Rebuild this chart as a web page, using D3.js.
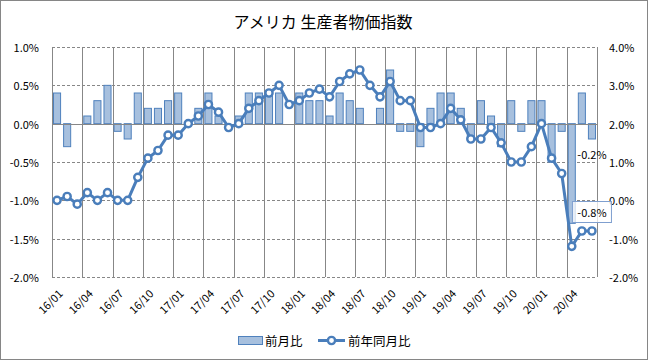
<!DOCTYPE html>
<html><head><meta charset="utf-8">
<script src="https://cdn.jsdelivr.net/npm/d3@7"></script>
<style>
html,body{margin:0;padding:0;background:#fff;}
svg{display:block;}
text{font-family:"Noto Sans CJK JP","Liberation Sans",sans-serif;fill:#000;}
</style></head>
<body>
<svg id="chart" width="648" height="360"></svg>
<script>
const title = "アメリカ 生産者物価指数";
const months = [
 "16/01","16/02","16/03","16/04","16/05","16/06","16/07","16/08","16/09","16/10","16/11","16/12",
 "17/01","17/02","17/03","17/04","17/05","17/06","17/07","17/08","17/09","17/10","17/11","17/12",
 "18/01","18/02","18/03","18/04","18/05","18/06","18/07","18/08","18/09","18/10","18/11","18/12",
 "19/01","19/02","19/03","19/04","19/05","19/06","19/07","19/08","19/09","19/10","19/11","19/12",
 "20/01","20/02","20/03","20/04","20/05","20/06"];
// 前月比 (left axis, %)
const mom = [
 0.4,-0.3,0.0,0.1,0.3,0.5,-0.1,-0.2,0.4,0.2,0.2,0.3,
 0.4,0.0,0.2,0.4,0.1,0.0,0.1,0.4,0.4,0.4,0.4,0.0,
 0.4,0.3,0.3,0.1,0.4,0.3,0.2,0.0,0.2,0.7,-0.1,-0.1,
 -0.3,0.2,0.4,0.4,0.2,-0.2,0.3,0.1,-0.3,0.3,-0.1,0.3,
 0.3,-0.5,-0.1,-1.3,0.4,-0.2];
// 前年同月比 (right axis, %)
const yoy = [
 0.0,0.1,-0.1,0.2,0.0,0.2,0.0,0.0,0.6,1.1,1.3,1.7,
 1.7,2.0,2.2,2.5,2.3,1.9,2.0,2.4,2.6,2.8,3.0,2.5,
 2.6,2.8,2.9,2.7,3.1,3.3,3.4,3.0,2.7,3.1,2.6,2.6,
 1.9,1.9,2.0,2.4,2.1,1.6,1.6,1.9,1.5,1.0,1.0,1.4,
 2.0,1.1,0.7,-1.2,-0.8,-0.8];
const leftTicks = [-2.0,-1.5,-1.0,-0.5,0.0,0.5,1.0];
const rightTicks = [-2.0,-1.0,0.0,1.0,2.0,3.0,4.0];
const seriesNames = ["前月比","前年同月比"];

const W = 648, H = 360;
const L = 52, R = 597, T = 47, B = 277;
const blue = "#4A7EBB", barFill = "#A7C0DE", barStroke = "#4F81BD", grid = "#878787";

const svg = d3.select("#chart");
svg.append("rect").attr("x",0.5).attr("y",0.5).attr("width",W-1).attr("height",H-1)
  .attr("fill","#fff").attr("stroke","#868686");

const x = d3.scaleBand().domain(months).range([L,R]).paddingInner(0.2).paddingOuter(0.1);
const step = x.step();
const y1 = d3.scaleLinear().domain([-2,1]).range([B,T]);
const y2 = d3.scaleLinear().domain([-2,4]).range([B,T]);
const fmt = d => d.toFixed(1) + "%";

// horizontal gridlines (dashed)
svg.append("g").selectAll("line").data(leftTicks.filter(d=>d!==0)).join("line")
  .attr("x1",L).attr("x2",R).attr("y1",d=>Math.round(y1(d))+0.5).attr("y2",d=>Math.round(y1(d))+0.5)
  .attr("stroke",grid).attr("stroke-width",1).attr("stroke-dasharray","3,2");

// vertical gridlines every 3 months (solid)
const vIdx = d3.range(0, months.length+1, 3);
svg.append("g").selectAll("line").data(vIdx).join("line")
  .attr("x1",i=>Math.round(L + i*step)+0.5).attr("x2",i=>Math.round(L + i*step)+0.5)
  .attr("y1",T).attr("y2",B)
  .attr("stroke",grid).attr("stroke-width",1);

// bars
svg.append("g").selectAll("rect").data(mom.map((v,i)=>({m:months[i],v}))).join("rect")
  .filter(d=>d.v!==0)
  .attr("x",d=>x(d.m)+0.5).attr("width",x.bandwidth()-1)
  .attr("y",d=>Math.min(y1(0),y1(d.v))).attr("height",d=>Math.abs(y1(d.v)-y1(0)))
  .attr("fill",barFill).attr("stroke",barStroke).attr("stroke-width",1);

// zero axis line
svg.append("line").attr("x1",L).attr("x2",R)
  .attr("y1",Math.round(y1(0))+0.5).attr("y2",Math.round(y1(0))+0.5)
  .attr("stroke",grid).attr("stroke-width",1);

// line series
const cx = (m) => x(m) + x.bandwidth()/2;
const pts = yoy.map((v,i)=>({m:months[i],v}));
svg.append("path").datum(pts)
  .attr("d", d3.line().x(d=>cx(d.m)).y(d=>y2(d.v)))
  .attr("fill","none").attr("stroke",blue).attr("stroke-width",3).attr("stroke-linejoin","round");
svg.append("g").selectAll("circle").data(pts).join("circle")
  .attr("cx",d=>cx(d.m)).attr("cy",d=>y2(d.v)).attr("r",3.6)
  .attr("fill","#fff").attr("stroke",blue).attr("stroke-width",2.4);

// left axis labels
svg.append("g").selectAll("text").data(leftTicks).join("text")
  .attr("x",39).attr("y",d=>y1(d)).attr("text-anchor","end").attr("dominant-baseline","central")
  .attr("font-size",11).text(fmt);
// right axis labels
svg.append("g").selectAll("text").data(rightTicks).join("text")
  .attr("x",609).attr("y",d=>y2(d)).attr("text-anchor","start").attr("dominant-baseline","central")
  .attr("font-size",11).text(fmt);

// x labels
svg.append("g").selectAll("text").data(months.filter((d,i)=>i%3===0)).join("text")
  .attr("transform",d=>`translate(${cx(d)+3},${291}) rotate(-45)`)
  .attr("text-anchor","end").attr("dominant-baseline","central")
  .attr("font-size",11).text(d=>d);

// title
svg.append("text").attr("x",323).attr("y",21).attr("text-anchor","middle")
  .attr("dominant-baseline","central").attr("font-size",16).text(title);

// data labels for last points
const last = months.length-1;
const lm = months[last];
svg.append("text").attr("x",cx(lm)).attr("y",y1(mom[last])+15)
  .attr("text-anchor","middle").attr("dominant-baseline","central").attr("font-size",11)
  .text(fmt(mom[last]));
const ly = y2(yoy[last]) - 19;
svg.append("rect").attr("x",cx(lm)-19.5).attr("y",ly-10.5).attr("width",39).attr("height",21)
  .attr("fill","rgba(255,255,255,0.75)").attr("stroke","#7F9FCF").attr("stroke-width",1);
svg.append("text").attr("x",cx(lm)).attr("y",ly)
  .attr("text-anchor","middle").attr("dominant-baseline","central").attr("font-size",11)
  .text(fmt(yoy[last]));

// legend
const lg = svg.append("g");
lg.append("rect").attr("x",238.5).attr("y",336.5).attr("width",24).attr("height",8)
  .attr("fill",barFill).attr("stroke",barStroke);
lg.append("text").attr("x",265).attr("y",340.5).attr("dominant-baseline","central")
  .attr("font-size",12.5).text(seriesNames[0]);
lg.append("line").attr("x1",318).attr("x2",345).attr("y1",340.5).attr("y2",340.5)
  .attr("stroke",blue).attr("stroke-width",3);
lg.append("circle").attr("cx",331.5).attr("cy",340.5).attr("r",3.6)
  .attr("fill","#fff").attr("stroke",blue).attr("stroke-width",2.4);
lg.append("text").attr("x",348).attr("y",340.5).attr("dominant-baseline","central")
  .attr("font-size",12.5).text(seriesNames[1]);
</script>
</body></html>
